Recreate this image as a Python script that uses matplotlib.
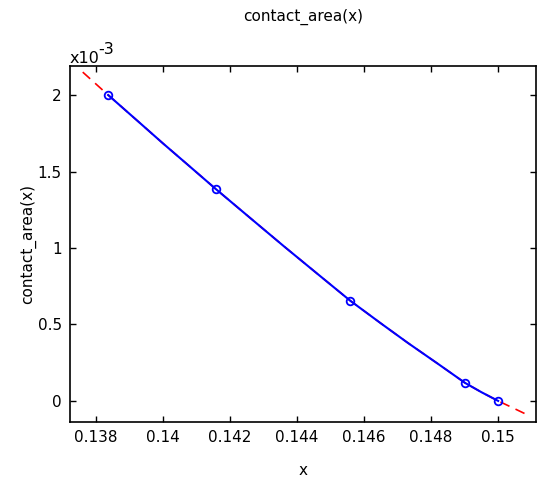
import matplotlib
matplotlib.use("Agg")
import matplotlib.pyplot as plt
from matplotlib.ticker import FuncFormatter, FixedLocator

# data points (interpolation nodes)
pts_x = [0.13836, 0.14158, 0.14558, 0.14901, 0.15000]
pts_y = [2.000e-3, 1.384e-3, 0.656e-3, 0.118e-3, 0.000e-3]

# curve read along the drawn function (including extrapolated ends)
curve_x = [0.1376, 0.13836, 0.1392, 0.1400, 0.1408, 0.14158, 0.1426, 0.1436, 0.1446,
           0.14558, 0.1465, 0.1473, 0.1482, 0.14901, 0.1495, 0.1500, 0.1505, 0.1509]
curve_y = [2.150e-3, 2.000e-3, 1.838e-3, 1.683e-3, 1.532e-3, 1.384e-3, 1.196e-3, 1.012e-3,
           0.832e-3, 0.656e-3, 0.507e-3, 0.380e-3, 0.243e-3, 0.118e-3, 0.057e-3,
           0.000e-3, -0.052e-3, -0.094e-3]

x_ticks = [0.138, 0.140, 0.142, 0.144, 0.146, 0.148, 0.150]
y_ticks = [0.0, 0.5e-3, 1.0e-3, 1.5e-3, 2.0e-3]

plt.rcParams['font.family'] = ['DejaVu Sans']
fig = plt.figure(figsize=(5.37, 4.79), dpi=100)
ax = fig.add_axes([70/537, 57/479, 466/537, 356/479])

ax.plot(curve_x, curve_y, color='red', lw=1.2, ls=(0, (6, 4)), zorder=2)
inner_x = [x for x in curve_x if pts_x[0] <= x <= pts_x[-1]]
inner_y = [y for x, y in zip(curve_x, curve_y) if pts_x[0] <= x <= pts_x[-1]]
ax.plot(inner_x, inner_y, color='blue', lw=1.5, zorder=3)
ax.plot(pts_x, pts_y, ls='none', marker='o', mfc='none', mec='blue', ms=5.5, mew=1.3, zorder=4)

ax.set_xlim(0.13722, 0.15113)
ax.set_ylim(-0.138e-3, 2.19e-3)
ax.xaxis.set_major_locator(FixedLocator(x_ticks))
ax.yaxis.set_major_locator(FixedLocator(y_ticks))
ax.xaxis.set_major_formatter(FuncFormatter(lambda v, p: f"{v:g}"))
ax.yaxis.set_major_formatter(FuncFormatter(lambda v, p: f"{v*1e3:g}"))
ax.tick_params(direction='in', top=True, right=True, labelsize=11, length=4, width=1, pad=6)
for s in ax.spines.values():
    s.set_linewidth(1.2)

ax.set_xlabel('x', fontsize=11, labelpad=13)
ax.set_ylabel('contact_area(x)', fontsize=11, labelpad=1)
fig.text(303/537, 1 - 17/479, 'contact_area(x)', ha='center', va='center', fontsize=11)
fig.text(70/537, 1 - 63/479, 'x10', ha='left', va='baseline', fontsize=11.5)
fig.text(98/537, 1 - 54/479, '-3', ha='left', va='baseline', fontsize=11.5)

fig.savefig('out.png', dpi=100)
